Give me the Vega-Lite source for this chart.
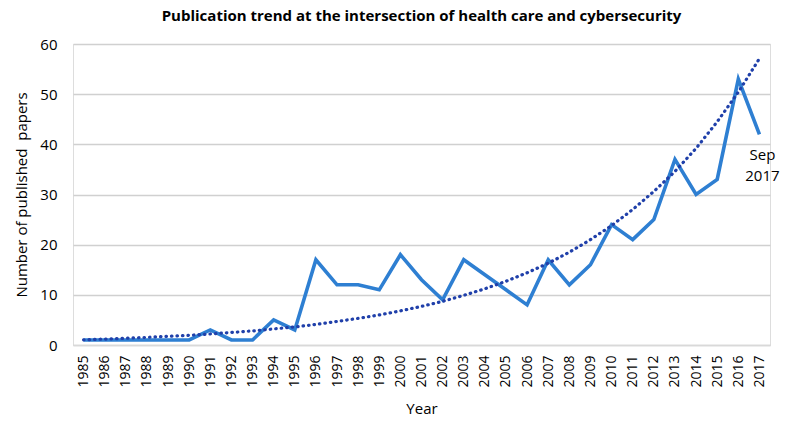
{
  "$schema": "https://vega.github.io/schema/vega-lite/v6.json",
  "width": 697,
  "height": 301,
  "autosize": "none",
  "padding": {"left": 73, "top": 44, "right": 30, "bottom": 86},
  "background": "white",
  "title": {
    "text": "Publication trend at the intersection of health care and cybersecurity",
    "font": "Open Sans",
    "fontSize": 15,
    "fontWeight": "bold",
    "color": "#000000",
    "anchor": "middle",
    "offset": 13
  },
  "data": {
    "values": [
      {"year": "1985", "papers": 1, "trend": 1.04},
      {"year": "1986", "papers": 1, "trend": 1.18},
      {"year": "1987", "papers": 1, "trend": 1.34},
      {"year": "1988", "papers": 1, "trend": 1.52},
      {"year": "1989", "papers": 1, "trend": 1.73},
      {"year": "1990", "papers": 1, "trend": 1.94},
      {"year": "1991", "papers": 3, "trend": 2.2},
      {"year": "1992", "papers": 1, "trend": 2.5},
      {"year": "1993", "papers": 1, "trend": 2.8},
      {"year": "1994", "papers": 5, "trend": 3.2},
      {"year": "1995", "papers": 3, "trend": 3.6},
      {"year": "1996", "papers": 17, "trend": 4.1},
      {"year": "1997", "papers": 12, "trend": 4.7},
      {"year": "1998", "papers": 12, "trend": 5.3},
      {"year": "1999", "papers": 11, "trend": 6.0},
      {"year": "2000", "papers": 18, "trend": 6.8},
      {"year": "2001", "papers": 13, "trend": 7.7},
      {"year": "2002", "papers": 9, "trend": 8.7},
      {"year": "2003", "papers": 17, "trend": 9.9},
      {"year": "2004", "papers": 14, "trend": 11.2},
      {"year": "2005", "papers": 11, "trend": 12.7},
      {"year": "2006", "papers": 8, "trend": 14.4},
      {"year": "2007", "papers": 17, "trend": 16.3},
      {"year": "2008", "papers": 12, "trend": 18.5},
      {"year": "2009", "papers": 16, "trend": 21.0},
      {"year": "2010", "papers": 24, "trend": 23.8},
      {"year": "2011", "papers": 21, "trend": 27.0},
      {"year": "2012", "papers": 25, "trend": 30.6},
      {"year": "2013", "papers": 37, "trend": 34.6},
      {"year": "2014", "papers": 30, "trend": 39.2},
      {"year": "2015", "papers": 33, "trend": 44.5},
      {"year": "2016", "papers": 53, "trend": 50.4},
      {"year": "2017", "papers": 42, "trend": 57.1, "note": "Sep\n2017"}
    ]
  },
  "encoding": {
    "x": {
      "field": "year",
      "type": "ordinal",
      "scale": {"type": "point", "padding": 0.5},
      "axis": {
        "title": "Year",
        "titleFont": "Open Sans",
        "titleFontSize": 15,
        "titleFontWeight": "normal",
        "titleColor": "#000000",
        "titlePadding": 14,
        "labelFont": "Open Sans",
        "labelFontSize": 14,
        "labelColor": "#000000",
        "labelAngle": -90,
        "labelPadding": 10,
        "ticks": false,
        "domain": true,
        "domainColor": "#d9d9d9",
        "domainWidth": 1.5,
        "grid": false
      }
    }
  },
  "layer": [
    {
      "mark": {"type": "line", "color": "#2e7fd2", "strokeWidth": 3.6, "strokeJoin": "miter"},
      "encoding": {
        "y": {
          "field": "papers",
          "type": "quantitative",
          "scale": {"domain": [0, 60], "nice": false},
          "axis": {
            "title": "Number of published\u00a0 papers",
            "titleFont": "Open Sans",
            "titleFontSize": 15,
            "titleFontWeight": "normal",
            "titleColor": "#000000",
            "titlePadding": 10,
            "values": [0, 10, 20, 30, 40, 50, 60],
            "labelFont": "Open Sans",
            "labelFontSize": 15,
            "labelColor": "#000000",
            "labelPadding": 16,
            "ticks": false,
            "domain": false,
            "grid": true,
            "gridColor": "#d0d0d0",
            "gridWidth": 1.5
          }
        }
      }
    },
    {
      "mark": {"type": "line", "color": "#2040aa", "strokeWidth": 3.2, "strokeDash": [0.5, 5], "strokeCap": "round"},
      "encoding": {
        "y": {"field": "trend", "type": "quantitative"}
      }
    },
    {
      "transform": [{"filter": "datum.note != null"}],
      "mark": {"type": "text", "font": "Open Sans", "fontSize": 15, "color": "#000000", "align": "center", "baseline": "top", "dy": 14, "dx": 3, "lineBreak": "\n", "lineHeight": 21},
      "encoding": {
        "y": {"field": "papers", "type": "quantitative"},
        "text": {"field": "note"}
      }
    }
  ]
}
